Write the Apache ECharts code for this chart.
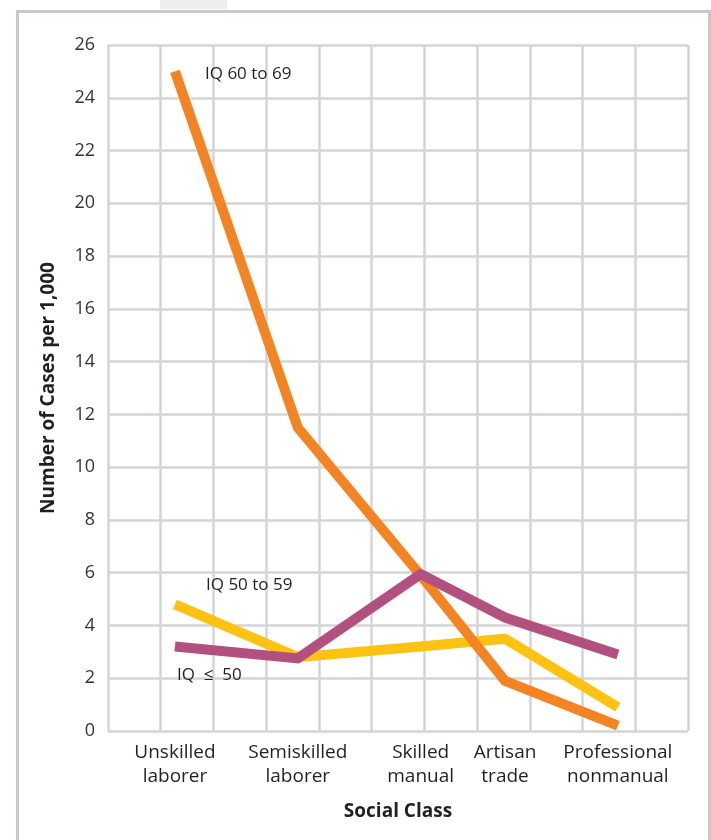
<!DOCTYPE html>
<html>
<head>
<meta charset="utf-8">
<script src="https://cdn.jsdelivr.net/npm/echarts@6/dist/echarts.min.js"></script>
<style>
  html, body { margin: 0; padding: 0; background: #fff; }
  #chart { width: 711px; height: 840px; }
</style>
</head>
<body>
<div id="chart"></div>
<script>
// social classes and where they sit on the 11-cell grid (grid units)
var classes = ['Unskilled\nlaborer', 'Semiskilled\nlaborer', 'Skilled\nmanual', 'Artisan\ntrade', 'Professional\nnonmanual'];
var classPos = [1.27, 3.6, 5.93, 7.53, 9.67];

// cases per 1,000
var iq60to69 = [25.0, 11.5, 5.9, 1.9, 0.2];
var iq50to59 = [4.8, 2.8, 3.2, 3.5, 0.9];
var iqLe50 = [3.2, 2.75, 5.95, 4.3, 2.9];

var yTicks = [0, 2, 4, 6, 8, 10, 12, 14, 16, 18, 20, 22, 24, 26];

var FONT = '"Open Sans", "Noto Sans", sans-serif';
var TEXT = '#231f20';
var GRIDC = '#d5d5d7';

function pts(vals) {
  return vals.map(function (v, i) { return [classPos[i], v]; });
}

function line(name, vals, color, z) {
  return {
    name: name,
    type: 'line',
    xAxisIndex: 0,
    data: pts(vals),
    showSymbol: false,
    silent: true,
    z: z,
    lineStyle: { color: color, width: 10, cap: 'butt', join: 'miter' }
  };
}

var chart = echarts.init(document.getElementById('chart'), null, { renderer: 'canvas' });
chart.setOption({
  animation: false,
  backgroundColor: '#ffffff',
  grid: { left: 108, right: 23, top: 45, bottom: 109 },
  xAxis: [
    {
      type: 'value', min: 0, max: 11, interval: 1,
      axisLine: { show: false }, axisTick: { show: false }, axisLabel: { show: false },
      splitLine: { show: true, lineStyle: { color: GRIDC, width: 2.5 } }
    },
    {
      type: 'value', min: 0, max: 11, position: 'bottom',
      axisLine: { show: false }, axisTick: { show: false },
      splitLine: { show: false },
      axisLabel: {
        customValues: classPos,
        formatter: function (v) {
          var i = classPos.indexOf(v);
          return i >= 0 ? classes[i] : '';
        },
        margin: 10,
        fontFamily: FONT, fontSize: 19, lineHeight: 24, color: TEXT, align: 'center'
      },
      name: 'Social Class', nameLocation: 'middle', nameGap: 71,
      nameTextStyle: { fontFamily: FONT, fontSize: 19, fontWeight: 'bold', color: TEXT }
    }
  ],
  yAxis: {
    type: 'value', min: 0, max: 26, interval: 2,
    axisLine: { show: false }, axisTick: { show: false },
    splitLine: { show: true, lineStyle: { color: GRIDC, width: 2.5 } },
    axisLabel: {
      margin: 13, fontFamily: FONT, fontSize: 18, color: '#333333',
      formatter: function (v) { return yTicks.indexOf(v) >= 0 ? String(v) : ''; }
    },
    name: 'Number of Cases per 1,000', nameLocation: 'middle', nameGap: 50,
    nameTextStyle: { fontFamily: FONT, fontSize: 19, fontWeight: 'bold', color: TEXT }
  },
  series: [
    line('IQ 50 to 59', iq50to59, '#fec212', 3),
    line('IQ 60 to 69', iq60to69, '#f48422', 4),
    line('IQ \u2264 50', iqLe50, '#b2507f', 5)
  ],
  graphic: [
    { type: 'rect', left: 160, top: 0, z: 0, shape: { width: 67, height: 9 }, style: { fill: '#ededed' }, silent: true },
    { type: 'rect', left: 15, top: 9, z: 0, shape: { width: 692, height: 850 }, style: { fill: 'none', stroke: '#cdc8c3', lineWidth: 3 }, silent: true },
    { type: 'text', left: 205, top: 66, z: 100, style: { text: 'IQ 60 to 69', fontFamily: FONT, fontSize: 17, fill: TEXT } },
    { type: 'text', left: 206, top: 577, z: 100, style: { text: 'IQ 50 to 59', fontFamily: FONT, fontSize: 17, fill: TEXT } },
    { type: 'text', left: 177, top: 667, z: 100, style: { text: 'IQ  \u2264  50', fontFamily: FONT, fontSize: 17, fill: TEXT } }
  ]
});
</script>
</body>
</html>
